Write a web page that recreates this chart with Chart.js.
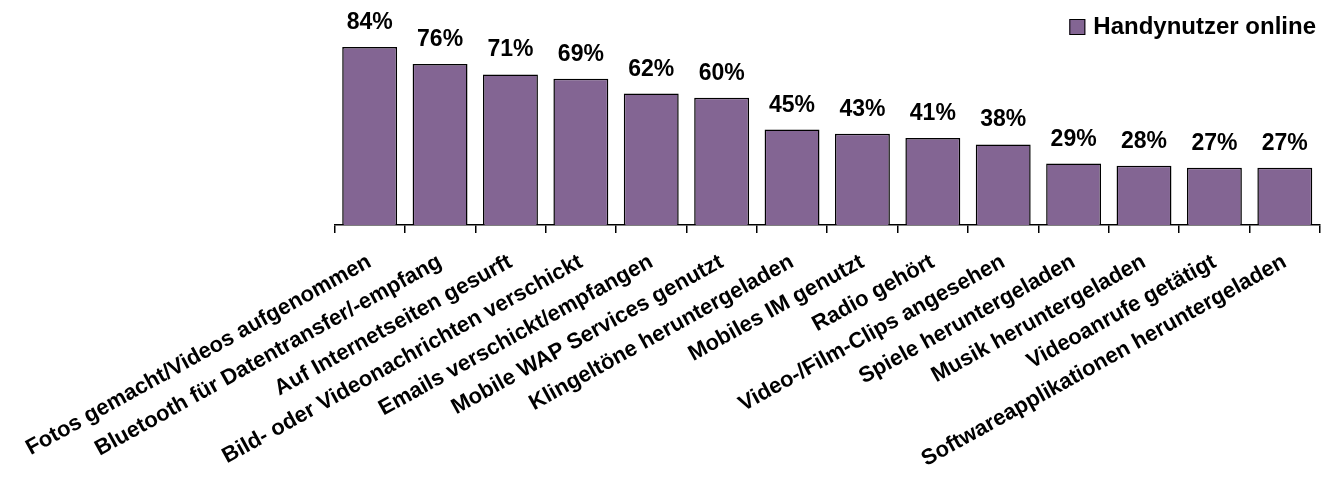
<!DOCTYPE html>
<html>
<head>
<meta charset="utf-8">
<script src="https://cdn.jsdelivr.net/npm/chart.js@4/dist/chart.umd.min.js"></script>
<style>
  html, body { margin: 0; padding: 0; background: #fff; }
  #wrap { width: 1328px; height: 481px; }
</style>
</head>
<body>
<div id="wrap"><canvas id="usageChart" width="1328" height="481"></canvas></div>
<script>
const categories = [
  'Fotos gemacht/Videos aufgenommen',
  'Bluetooth für Datentransfer/-empfang',
  'Auf Internetseiten gesurft',
  'Bild- oder Videonachrichten verschickt',
  'Emails verschickt/empfangen',
  'Mobile WAP Services genutzt',
  'Klingeltöne heruntergeladen',
  'Mobiles IM genutzt',
  'Radio gehört',
  'Video-/Film-Clips angesehen',
  'Spiele heruntergeladen',
  'Musik heruntergeladen',
  'Videoanrufe getätigt',
  'Softwareapplikationen heruntergeladen',
];
const seriesName = 'Handynutzer online';
const shares = [84, 76, 71, 69, 62, 60, 45, 43, 41, 38, 29, 28, 27, 27];

const FONT = '"Liberation Sans", Arial, sans-serif';
const BAR_COLOR = '#836593';

// percent figures above each bar + the legend in the top right corner
const valueLabels = {
  id: 'valueLabels',
  afterDatasetsDraw(chart) {
    const ctx = chart.ctx;
    const meta = chart.getDatasetMeta(0);
    ctx.save();
    ctx.font = 'bold 23px ' + FONT;
    ctx.fillStyle = '#000';
    ctx.textAlign = 'center';
    ctx.textBaseline = 'alphabetic';
    meta.data.forEach((bar, i) => {
      ctx.fillText(shares[i] + '%', bar.x, bar.y - 18);
    });

    // legend
    ctx.font = 'bold 24px ' + FONT;
    ctx.textAlign = 'right';
    ctx.textBaseline = 'middle';
    const right = chart.chartArea.right - 4;
    const w = ctx.measureText(seriesName).width;
    ctx.fillText(seriesName, right, 27);
    const bx = right - w - 24;
    ctx.fillStyle = BAR_COLOR;
    ctx.fillRect(bx, 19, 16, 16);
    ctx.strokeStyle = '#000';
    ctx.lineWidth = 1;
    ctx.strokeRect(bx + 0.5, 19.5, 15, 15);
    ctx.restore();
  },
};

const ctx = document.getElementById('usageChart').getContext('2d');
const usageChart = new Chart(ctx, {
  type: 'bar',
  data: {
    labels: categories,
    datasets: [
      {
        label: seriesName,
        data: shares,
        backgroundColor: BAR_COLOR,
        borderColor: '#000',
        borderWidth: 1.5,
        barPercentage: 0.78,
        categoryPercentage: 1,
      },
    ],
  },
  options: {
    responsive: false,
    animation: false,
    layout: {
      padding: { top: 13, right: 8, left: 333, bottom: 0 },
    },
    plugins: {
      tooltip: { enabled: false },
      legend: { display: false },
    },
    scales: {
      y: {
        display: false,
        min: 0,
        max: 100,
      },
      x: {
        afterFit(axis) {
          axis.height = 256; // rotated labels need more than half the canvas
        },
        grid: {
          offset: true,
          drawOnChartArea: false,
          drawTicks: true,
          tickLength: 8,
          color: '#000',
          lineWidth: 1.5,
        },
        border: { display: true, color: '#000', width: 1.5 },
        ticks: {
          autoSkip: false,
          minRotation: 29,
          maxRotation: 29,
          padding: 16,
          color: '#000',
          font: { family: FONT, size: 22, weight: 'bold' },
        },
      },
    },
  },
  plugins: [valueLabels],
});
</script>
</body>
</html>
